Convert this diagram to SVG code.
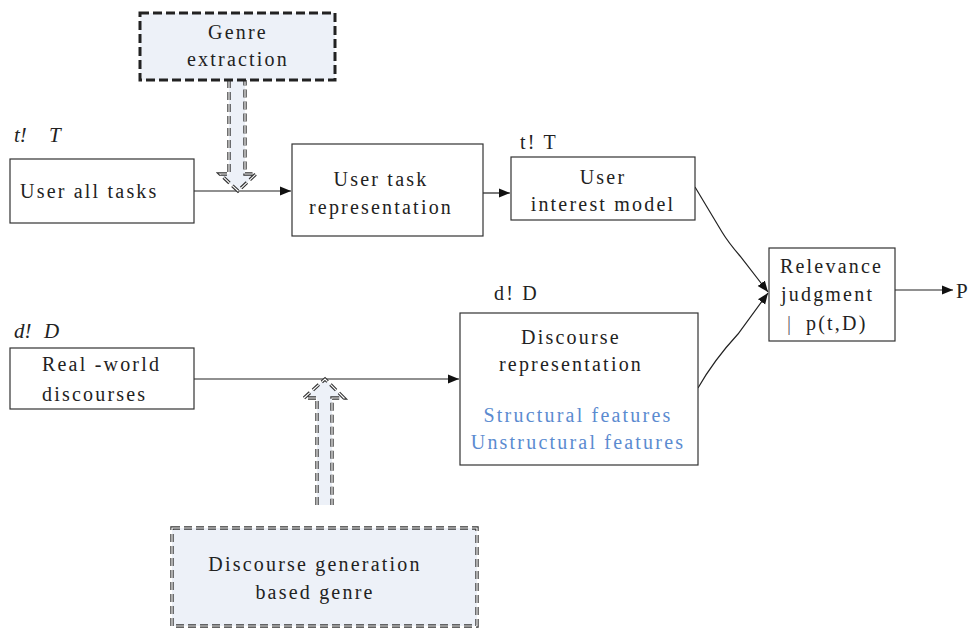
<svg xmlns="http://www.w3.org/2000/svg" width="971" height="629" viewBox="0 0 971 629">
<style>
.box{fill:#fff;stroke:#333;stroke-width:1.2}
.t{font-family:"Liberation Serif",serif;font-size:20px;letter-spacing:2.2px;fill:#222}
.c{text-anchor:middle}
.blue{fill:#5b8bd0}
.it{font-family:"Liberation Serif",serif;font-style:italic;font-size:21px;fill:#222}
.conn{fill:none;stroke:#222;stroke-width:1.2}
.gfill{fill:#edf1f8}
.dashA{fill:none;stroke:#222;stroke-width:3;stroke-dasharray:9 4}
.dashB{fill:none;stroke:#333;stroke-width:3.4;stroke-dasharray:8 4}
.dashBi{fill:none;stroke:#fff;stroke-width:1.2;stroke-dasharray:8 4}
</style>
<defs>
<marker id="ah" markerWidth="12" markerHeight="10" refX="11" refY="5" orient="auto" markerUnits="userSpaceOnUse">
<path d="M0,0.5 L11,5 L0,9.5 Z" fill="#111"/>
</marker>
</defs>

<g id="connectors">
<line class="conn" x1="194" y1="191" x2="291" y2="191" marker-end="url(#ah)"/>
<line class="conn" x1="483" y1="193" x2="510" y2="193" marker-end="url(#ah)"/>
<line class="conn" x1="194" y1="379" x2="459" y2="379" marker-end="url(#ah)"/>
<path class="conn" d="M695,187 L722,232 Q728,242 740,256 L768,292" marker-end="url(#ah)"/>
<path class="conn" d="M698,388 Q714,360 738,334 L768,293" marker-end="url(#ah)"/>
<line class="conn" x1="895" y1="290" x2="953" y2="290" marker-end="url(#ah)"/>
</g>

<g id="genre-arrow">
<polygon class="gfill" points="229,80 245,80 245,174 256,174 238,191 220,174 229,174"/>
<polyline class="dashB" points="229,80 229,174 220,174 238,191 256,174 245,174 245,80"/>
<polyline class="dashBi" points="229,80 229,174 220,174 238,191 256,174 245,174 245,80"/>
</g>

<g id="genre-extraction">
<rect class="gfill" x="140" y="13" width="195" height="67"/>
<rect class="dashA" x="140" y="13" width="195" height="67"/>
<text class="t c" x="238" y="39">Genre</text>
<text class="t c" x="238" y="66">extraction</text>
</g>

<g id="user-all-tasks">
<text class="it" x="14" y="142">t!<tspan x="49">T</tspan></text>
<rect class="box" x="10" y="159" width="184" height="64"/>
<text class="t" x="20" y="198">User all tasks</text>
</g>

<g id="user-task-representation">
<rect class="box" x="292" y="144" width="191" height="92"/>
<text class="t c" x="381" y="186">User task</text>
<text class="t c" x="381" y="214">representation</text>
</g>

<g id="user-interest-model">
<text class="t" x="520" y="149">t! T</text>
<rect class="box" x="511" y="157" width="184" height="63"/>
<text class="t c" x="603" y="184">User</text>
<text class="t c" x="603" y="211">interest model</text>
</g>

<g id="relevance-judgment">
<rect class="box" x="769" y="248" width="126" height="93"/>
<text class="t" x="780" y="273">Relevance</text>
<text class="t" x="781" y="301">judgment</text>
<text class="t" x="787" y="330"><tspan fill="#666">|</tspan><tspan x="806">p(t,D)</tspan></text>
</g>

<g id="output-p">
<text class="t" x="956" y="298" style="font-size:21px">P</text>
</g>

<g id="real-world-discourses">
<text class="it" x="14" y="338">d!<tspan x="44">D</tspan></text>
<rect class="box" x="10" y="348" width="184" height="61"/>
<text class="t" x="42" y="371">Real -world</text>
<text class="t" x="42" y="401">discourses</text>
</g>

<g id="discourse-representation">
<text class="t" x="494" y="300">d! D</text>
<rect class="box" x="460" y="313" width="238" height="152"/>
<text class="t c" x="571" y="344">Discourse</text>
<text class="t c" x="571" y="371">representation</text>
<text class="t c blue" x="578" y="422">Structural features</text>
<text class="t c blue" x="578" y="449">Unstructural features</text>
</g>

<g id="generation-arrow">
<polygon class="gfill" points="317,505 332,505 332,398 344,398 325,379 304,398 317,398"/>
<polyline class="dashB" points="317,505 317,398 304,398 325,379 344,398 332,398 332,505"/>
<polyline class="dashBi" points="317,505 317,398 304,398 325,379 344,398 332,398 332,505"/>
</g>

<g id="discourse-generation">
<rect class="gfill" x="172" y="528" width="305" height="98"/>
<rect class="dashB" x="172" y="528" width="305" height="98"/>
<rect class="dashBi" x="172" y="528" width="305" height="98"/>
<text class="t c" x="315" y="571">Discourse generation</text>
<text class="t c" x="315" y="599">based genre</text>
</g>
</svg>
